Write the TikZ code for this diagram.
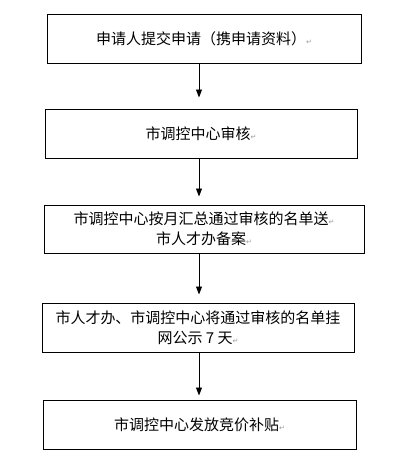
\documentclass[tikz,border=0pt]{standalone}
\usepackage{fontspec}
\setmainfont{Noto Sans CJK SC}
\newfontfamily\markfont{DejaVu Sans}
\usetikzlibrary{positioning, arrows.meta}
\newcommand{\pmark}{{\markfont\fontsize{7pt}{7pt}\selectfont\color{gray!80}↵}}

\begin{document}
\begin{tikzpicture}[x=1pt, y=-1pt,
  box/.style={draw, line width=1pt, minimum width=312pt, minimum height=49pt, align=center, inner sep=2pt, font=\fontsize{15pt}{20pt}\selectfont},
  arr/.style={-{Triangle[width=6pt,length=8pt]}, line width=0.9pt}]
  \useasboundingbox (0,0) rectangle (411,469);
  \node[box, minimum width=314pt] (apply) at (204,38.5) {申请人提交申请（携申请资料）\pmark};
  \node[box, below=45pt of apply, xshift=-3pt] (review) {市调控中心审核\pmark};
  \node[box, minimum width=320pt, minimum height=48pt, below=46pt of review, xshift=3pt] (record) {市调控中心按月汇总通过审核的名单送\pmark\\市人才办备案\pmark};
  \node[box, below=49pt of record, xshift=-6pt] (publish) {市人才办、市调控中心将通过审核的名单挂\\网公示 7 天\pmark};
  \node[box, minimum width=313pt, below=47pt of publish, xshift=1.5pt] (subsidy) {市调控中心发放竞价补贴\pmark};
  \coordinate (axis) at (199,0);
  \draw[arr, shorten >=11pt] (apply.south -| axis) -- (review.north -| axis);
  \draw[arr, shorten >=8pt] (review.south -| axis) -- (record.north -| axis);
  \draw[arr, shorten >=8pt] (record.south -| axis) -- (publish.north -| axis);
  \draw[arr, shorten >=4pt] (publish.south -| axis) -- (subsidy.north -| axis);
\end{tikzpicture}
\end{document}
